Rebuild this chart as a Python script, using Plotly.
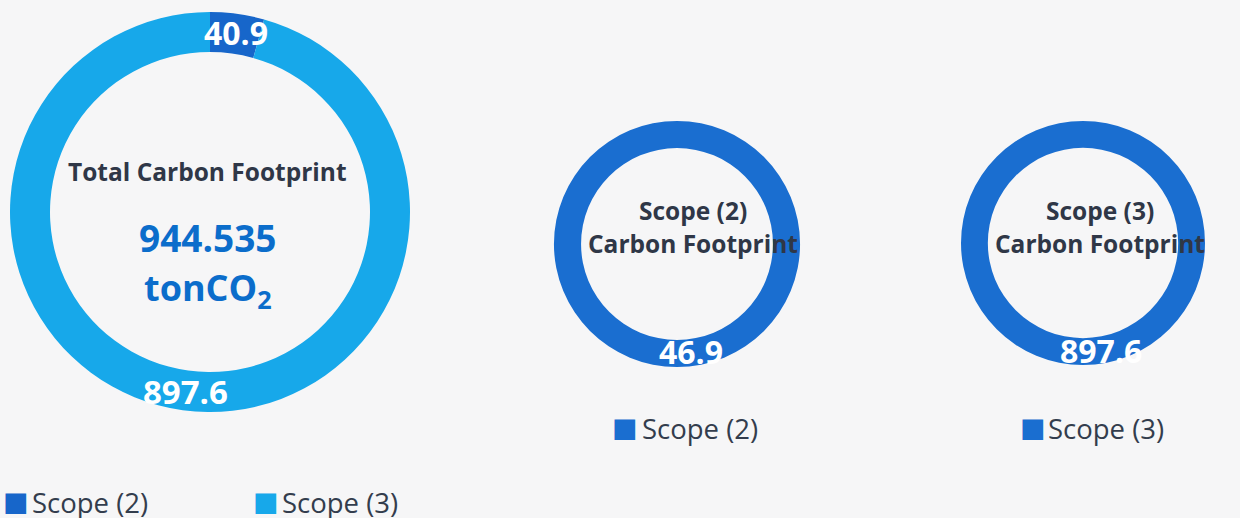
import plotly.graph_objects as go

W, H = 1240, 518

# ---- data ----
total_labels = ["Scope (2)", "Scope (3)"]
total_values = [40.9, 897.6]
scope2_labels = ["Scope (2)"]
scope2_values = [46.9]
scope3_labels = ["Scope (3)"]
scope3_values = [897.6]
total_footprint = "944.535"
unit_text = "tonCO<sub>2</sub>"

C_S2 = "#1766ca"
C_S3 = "#17a8ea"
C_RING = "#1a6ed0"
TXT = "#2f3747"
LEG_TXT = "#333d4d"
BLUE_TXT = "#0b6dcb"
FONT = "Open Sans"


def px_x(x):
    return x / W


def px_y(y):
    return 1 - y / H


def dom(cx, cy, r):
    return dict(x=[px_x(cx - r), px_x(cx + r)], y=[px_y(cy + r), px_y(cy - r)])


fig = go.Figure()

fig.add_trace(go.Pie(
    labels=total_labels, values=total_values, hole=0.8, sort=False,
    direction="clockwise", rotation=0, textinfo="none",
    marker=dict(colors=[C_S2, C_S3], line=dict(width=0)),
    domain=dom(210, 212, 200), showlegend=False, hoverinfo="label+value",
))
fig.add_trace(go.Pie(
    labels=scope2_labels, values=scope2_values, hole=0.78, sort=False,
    direction="clockwise", textinfo="none",
    marker=dict(colors=[C_RING], line=dict(width=0)),
    domain=dom(677, 244, 123), showlegend=False, hoverinfo="label+value",
))
fig.add_trace(go.Pie(
    labels=scope3_labels, values=scope3_values, hole=0.78, sort=False,
    direction="clockwise", textinfo="none",
    marker=dict(colors=[C_RING], line=dict(width=0)),
    domain=dom(1083, 243, 122), showlegend=False, hoverinfo="label+value",
))

ann = []


def add_text(text, cx, cy, size, color, bold=True, anchor="center", family=FONT):
    ann.append(dict(
        text=f"<b>{text}</b>" if bold else text, x=px_x(cx), y=px_y(cy),
        xref="paper", yref="paper", xanchor=anchor, yanchor="middle",
        showarrow=False, borderpad=0,
        font=dict(family=family, size=size, color=color),
    ))


# value labels on the rings
add_text(f"{total_values[0]:.1f}", 236, 33, 32, "white")
add_text(f"{total_values[1]:.1f}", 185, 391, 33, "white")
add_text(f"{scope2_values[0]:.1f}", 691, 351, 32, "white")
add_text(f"{scope3_values[0]:.1f}", 1101, 350, 32, "white")

# centre texts
add_text("Total Carbon Footprint", 207, 171, 24.5, TXT)
add_text(total_footprint, 208, 237, 37, BLUE_TXT)
add_text(unit_text, 208, 289, 36, BLUE_TXT)
add_text("Scope (2)", 693, 210, 24.5, TXT)
add_text("Carbon Footprint", 693, 244, 24.5, TXT)
add_text("Scope (3)", 1100, 210, 24.5, TXT)
add_text("Carbon Footprint", 1100, 244, 24.5, TXT)


# legends (square swatch + label)
def add_legend(label, color, sq_left, text_left, cy):
    ann.append(dict(
        text="■", x=px_x(sq_left - 5), y=px_y(cy - 1), xref="paper", yref="paper",
        xanchor="left", yanchor="middle", showarrow=False, borderpad=0,
        font=dict(family="DejaVu Sans", size=27, color=color),
    ))
    add_text(label, text_left, cy, 27.5, LEG_TXT, bold=False, anchor="left")


add_legend(total_labels[0], C_S2, 7, 31, 502)
add_legend(total_labels[1], C_S3, 257, 281, 502)
add_legend(scope2_labels[0], C_RING, 616, 641, 428)
add_legend(scope3_labels[0], C_RING, 1024, 1047, 428)

fig.update_layout(
    width=W, height=H,
    margin=dict(l=0, r=0, t=0, b=0, autoexpand=False),
    paper_bgcolor="#f6f6f7", plot_bgcolor="#f6f6f7",
    annotations=ann,
    showlegend=False,
)

fig.write_html("out.html")
